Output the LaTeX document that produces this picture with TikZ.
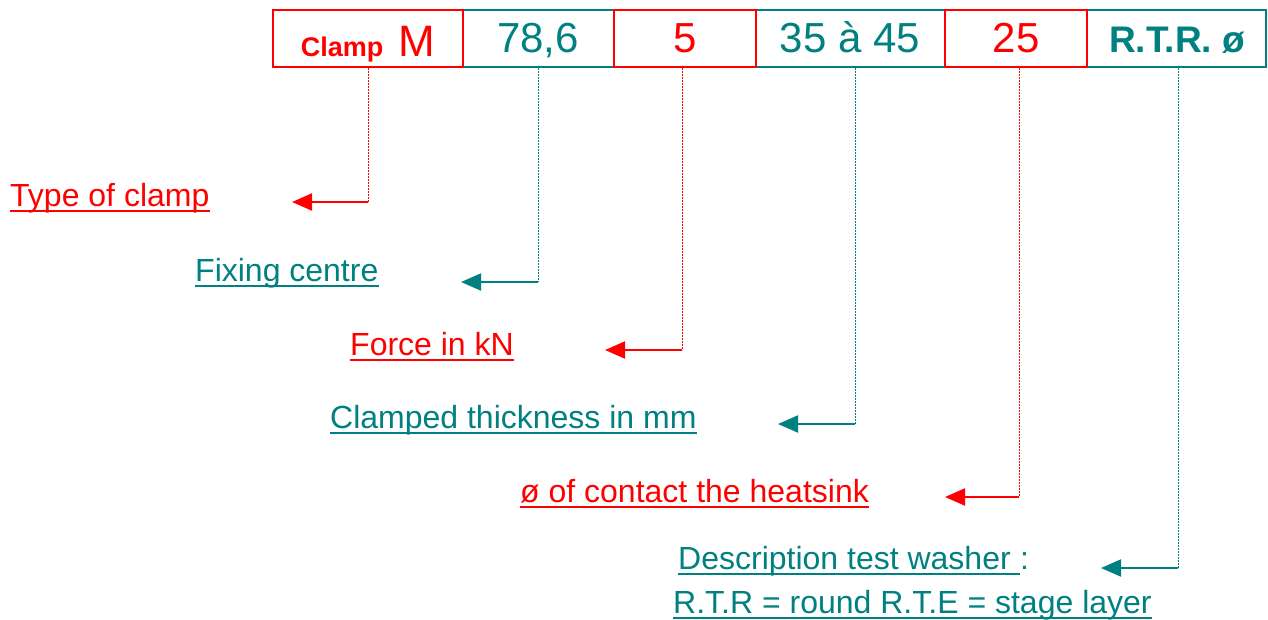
\documentclass[tikz,border=0pt]{standalone}
\usepackage{fontspec}
\setmainfont{Liberation Sans}
\usetikzlibrary{arrows.meta}
\definecolor{myred}{RGB}{255,0,0}
\definecolor{myteal}{RGB}{0,128,128}
\tikzset{
  boxr/.style={draw=myred,line width=2pt},
  boxt/.style={draw=myteal,line width=2pt},
  btext/.style={anchor=base,inner sep=0pt,font=\fontsize{42}{42}\selectfont},
  lab/.style={anchor=base west,inner sep=0pt,font=\fontsize{32}{32}\selectfont},
  uline/.style={line width=2pt},
  vlink/.style={line width=1pt,dash pattern=on 1.5pt off 1.5pt},
  hlink/.style={line width=2pt,-{Triangle[length=20pt,width=17pt]}},
}
\begin{document}
\begin{tikzpicture}[x=1pt,y=-1pt]
\useasboundingbox (0,0) rectangle (1268,619);
% boxes (teal first, red on top)
\draw[boxt] (463,10) rectangle (614,67);
\draw[boxt] (756,10) rectangle (945,67);
\draw[boxt] (1087,10) rectangle (1266,67);
\draw[boxr] (273,10) rectangle (463,67);
\draw[boxr] (614,10) rectangle (756,67);
\draw[boxr] (945,10) rectangle (1087,67);
\node (b1) [btext,text=myred] at (368,56) {{\fontsize{27}{27}\selectfont\bfseries Clamp}\hspace{15pt}\fontsize{44}{44}\selectfont M};
\node (b2) [btext,text=myteal] at (538,52) {78,6};
\node (b3) [btext,text=myred] at (685,52) {5};
\node (b4) [btext,text=myteal] at (850,52) {35 à 45};
\node (b5) [btext,text=myred] at (1016,52) {25};
\node (b6) [btext,text=myteal,font=\fontsize{37}{37}\selectfont\bfseries] at (1177,52) {R.T.R. ø};
% connector coordinates
\coordinate (s1) at (368,68); \coordinate (c1) at (368,202); \coordinate (t1) at (292,202);
\coordinate (s2) at (538,68); \coordinate (c2) at (538,282); \coordinate (t2) at (461,282);
\coordinate (s3) at (682,68); \coordinate (c3) at (682,350); \coordinate (t3) at (605,350);
\coordinate (s4) at (855,68); \coordinate (c4) at (855,424); \coordinate (t4) at (778,424);
\coordinate (s5) at (1019,68); \coordinate (c5) at (1019,497); \coordinate (t5) at (945,497);
\coordinate (s6) at (1178,68); \coordinate (c6) at (1178,568); \coordinate (t6) at (1101,568);
\draw[vlink,myred] (s1) -- (c1); \draw[hlink,myred] (c1) -- (t1);
\draw[vlink,myteal] (s2) -- (c2); \draw[hlink,myteal] (c2) -- (t2);
\draw[vlink,myred] (s3) -- (c3); \draw[hlink,myred] (c3) -- (t3);
\draw[vlink,myteal] (s4) -- (c4); \draw[hlink,myteal] (c4) -- (t4);
\draw[vlink,myred] (s5) -- (c5); \draw[hlink,myred] (c5) -- (t5);
\draw[vlink,myteal] (s6) -- (c6); \draw[hlink,myteal] (c6) -- (t6);
% labels
\node (l1) [lab,text=myred] at (10,206) {Type of clamp};
\draw[uline,myred] ([yshift=-5pt]l1.base west) -- ([yshift=-5pt]l1.base east);
\node (l2) [lab,text=myteal] at (195,281) {Fixing centre};
\draw[uline,myteal] ([yshift=-5pt]l2.base west) -- ([yshift=-5pt]l2.base east);
\node (l3) [lab,text=myred] at (350,355) {Force in kN};
\draw[uline,myred] ([yshift=-5pt]l3.base west) -- ([yshift=-5pt]l3.base east);
\node (l4) [lab,text=myteal] at (330,428) {Clamped thickness in mm};
\draw[uline,myteal] ([yshift=-5pt]l4.base west) -- ([yshift=-5pt]l4.base east);
\node (l5) [lab,text=myred] at (520,502) {ø of contact the heatsink};
\draw[uline,myred] ([yshift=-5pt]l5.base west) -- ([yshift=-5pt]l5.base east);
\node (l6) [lab,text=myteal] at (678,569) {Description test washer\ \hbox{}};
\draw[uline,myteal] ([yshift=-5pt]l6.base west) -- ([yshift=-5pt]l6.base east);
\node (l6b) [lab,text=myteal] at (l6.base east) {:};
\node (l7) [lab,text=myteal] at (673,613) {R.T.R = round R.T.E = stage layer};
\draw[uline,myteal] ([yshift=-5pt]l7.base west) -- ([yshift=-5pt]l7.base east);
\end{tikzpicture}
\end{document}
